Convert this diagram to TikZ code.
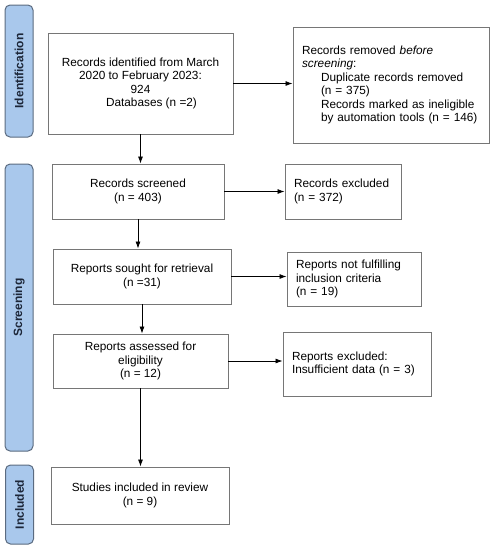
\documentclass[tikz,border=0pt]{standalone}
\usepackage{fontspec}
\setmainfont{Liberation Sans}
\usetikzlibrary{arrows.meta}
\definecolor{phasefill}{HTML}{A9C8EC}
\definecolor{phaseline}{HTML}{5B6B80}
\definecolor{phasetext}{HTML}{1C2638}
\definecolor{boxline}{HTML}{767676}
\begin{document}
\begin{tikzpicture}[x=1pt,y=-1pt,
  font=\fontsize{11.8}{13.5}\selectfont,
  phase/.style={draw=phaseline,fill=phasefill,rounded corners=5pt,line width=1pt,
    minimum height=28pt,inner sep=0pt,rotate=90,
    font=\fontsize{12}{14}\selectfont\bfseries,text=phasetext},
  box/.style={draw=boxline,line width=0.9pt,align=center,inner sep=0pt},
  sidebox/.style={draw=boxline,line width=0.9pt,align=left,
    inner xsep=9pt,inner ysep=0pt},
  arr/.style={-{Latex[length=7pt,width=5pt]},line width=0.8pt}]
\useasboundingbox (0,0) rectangle (495,550);
\node[phase,minimum width=132pt] (pid) at (19,71) {Identification};
\node[phase,minimum width=287pt] (pscr) at (19,307.5) {Screening};
\node[phase,minimum width=79pt] (pinc) at (19.5,504.5) {Included};
\node[box,minimum width=185pt,minimum height=101pt] (ident) at (140.5,83.5)
  {Records identified from March\\ 2020 to February 2023:\\ 924\\
   \hspace*{22pt}Databases (n =2)};
\node[sidebox,text width=178pt,minimum height=116pt] (removed) at (391,85)
  {Records removed \textit{before}\\ \textit{screening}:\\
   \hspace*{19pt}Duplicate records removed\\ \hspace*{19pt}(n = 375)\\
   \hspace*{19pt}Records marked as ineligible\\
   \hspace*{19pt}by automation tools (n = 146)};
\node[box,minimum width=172pt,minimum height=55pt] (screened) at (138,191.5)
  {Records screened\\ (n = 403)};
\node[sidebox,text width=98pt,minimum height=55pt] (excl) at (343,191.5)
  {Records excluded\\ (n = 372)};
\node[box,minimum width=178pt,minimum height=55pt] (sought) at (142,276.5)
  {Reports sought for retrieval\\ (n =31)};
\node[sidebox,text width=116pt,minimum height=54pt] (notful) at (354,279)
  {Reports not fulfilling\\ inclusion criteria\\ (n = 19)};
\node[sidebox,text width=130pt,minimum height=64pt] (repexcl) at (357,364)
  {Reports excluded:\\ Insufficient data (n = 3)};
\node[box,minimum width=175pt,minimum height=54pt] (assessed) at (140.5,361)
  {Reports assessed for\\ eligibility\\ (n = 12)};
\node[box,minimum width=178pt,minimum height=57pt] (studies) at (140,495.5)
  {Studies included in review\\ (n = 9)};
\draw[arr] (ident.south) -- (ident.south |- screened.north);
\draw[arr] (screened.south) -- (screened.south |- sought.north);
\draw[arr] (sought.south) -- (sought.south |- assessed.north);
\draw[arr] (assessed.south) -- (assessed.south |- studies.north);
\draw[arr] (ident.east) -- (ident.east -| removed.west);
\draw[arr] (screened.east) -- (screened.east -| excl.west);
\draw[arr] (sought.east) -- (sought.east -| notful.west);
\draw[arr] (assessed.east) -- (assessed.east -| repexcl.west);
\end{tikzpicture}
\end{document}
